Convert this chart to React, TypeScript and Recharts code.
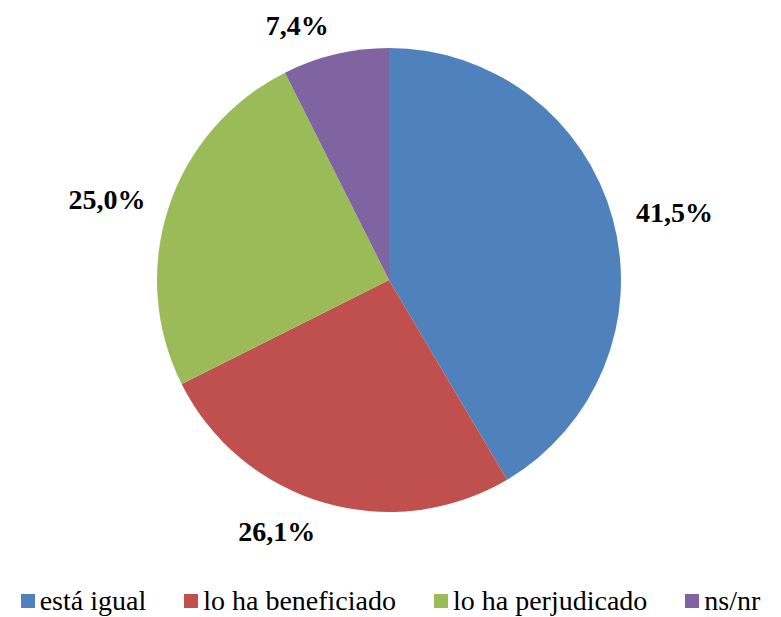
import { PieChart, Pie, Cell, Legend } from "recharts";

const CATEGORIES = ["está igual", "lo ha beneficiado", "lo ha perjudicado", "ns/nr"];
const VALUES = [41.5, 26.1, 25.0, 7.4];
const COLORS = ["#4F81BD", "#C0504D", "#9BBB59", "#8064A2"];

const data = CATEGORIES.map((name, i) => ({ name, value: VALUES[i] }));

const RAD = Math.PI / 180;
const FONT = "Liberation Serif, Tinos, DejaVu Serif, serif";

// outside-end label: anchored to the rim side like Excel does
function renderLabel(props: any) {
  const { cx, cy, midAngle, outerRadius, value } = props;
  const dx = Math.cos(-midAngle * RAD);
  const dy = Math.sin(-midAngle * RAD);
  const d = outerRadius + 22 + 8 * Math.abs(dy);
  const x = cx + dx * d;
  const y = cy + dy * d;
  return (
    <text
      x={x}
      y={y}
      textAnchor={dx >= 0 ? "start" : "end"}
      dominantBaseline="central"
      fill="#000"
      fontFamily={FONT}
      fontSize={28}
      fontWeight={700}
    >
      {value.toFixed(1).replace(".", ",")}%
    </text>
  );
}

function LegendContent() {
  return (
    <div
      style={{
        display: "flex",
        justifyContent: "center",
        gap: 38,
        fontFamily: FONT,
        fontSize: 28,
        color: "#000",
        lineHeight: "30px",
      }}
    >
      {CATEGORIES.map((c, i) => (
        <div key={c} style={{ display: "flex", alignItems: "center" }}>
          <span style={{ width: 14, height: 14, background: COLORS[i], marginRight: 5, display: "inline-block" }} />
          <span>{c}</span>
        </div>
      ))}
    </div>
  );
}

export default function App() {
  return (
    <div style={{ position: "absolute", left: 0, top: 0, width: 781, height: 617, background: "#fff" }}>
      <PieChart width={781} height={617} margin={{ top: 0, right: 0, bottom: 0, left: 0 }}>
        <Pie
          data={data}
          dataKey="value"
          nameKey="name"
          cx={389}
          cy={280}
          outerRadius={232}
          startAngle={90}
          endAngle={-270}
          stroke="none"
          label={renderLabel}
          labelLine={false}
          isAnimationActive={false}
        >
          {data.map((d, i) => (
            <Cell key={d.name} fill={COLORS[i]} />
          ))}
        </Pie>
        <Legend
          verticalAlign="bottom"
          content={<LegendContent />}
          wrapperStyle={{ bottom: 1, left: 0, width: 781 }}
        />
      </PieChart>
    </div>
  );
}
